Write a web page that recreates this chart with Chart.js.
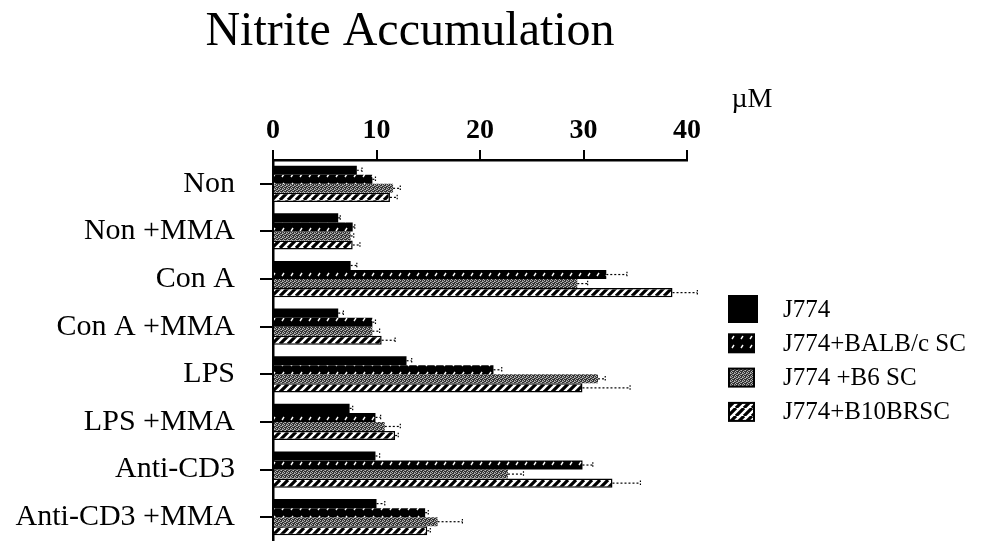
<!DOCTYPE html>
<html>
<head>
<meta charset="utf-8">
<script src="https://cdn.jsdelivr.net/npm/chart.js@4"></script>
<style>
  html, body { margin: 0; padding: 0; background: #fff; overflow: hidden; }
  #wrap { position: relative; width: 981px; height: 541px; }
</style>
</head>
<body>
<div id="wrap"><canvas id="c"></canvas></div>
<script>
// data (µM)
const categories = ['Non', 'Non +MMA', 'Con A', 'Con A +MMA', 'LPS', 'LPS +MMA', 'Anti-CD3', 'Anti-CD3 +MMA'];
const seriesNames = ['J774', 'J774+BALB/c SC', 'J774 +B6 SC', 'J774+B10BRSC'];
const j774 =   [8.1, 6.3, 7.5, 6.3, 12.9, 7.4, 9.9, 10.0];
const balbc =  [9.6, 7.7, 32.2, 9.6, 21.3, 9.9, 29.9, 14.7];
const b6 =     [11.6, 7.5, 29.4, 9.6, 31.4, 10.8, 22.7, 15.9];
const b10br =  [11.3, 7.7, 38.6, 10.5, 29.9, 11.8, 32.8, 14.9];
// upper error (SD) per bar
const j774Err =  [0.5, 0.2, 0.6, 0.5, 0.5, 0.3, 0.4, 0.8];
const balbcErr = [0.3, 0.2, 2.0, 0.3, 0.8, 0.5, 1.0, 0.3];
const b6Err =    [0.7, 0.3, 1.0, 0.7, 0.7, 1.5, 1.5, 2.4];
const b10brErr = [0.7, 0.7, 2.4, 1.3, 4.6, 0.3, 2.7, 0.3];
const xTicks = [0, 10, 20, 30, 40];

const serif = '"Liberation Serif", "DejaVu Serif", serif';

function makePattern(draw, w, h) {
  const c = document.createElement('canvas');
  c.width = w; c.height = h;
  draw(c.getContext('2d'), w, h);
  return c.getContext('2d').createPattern(c, 'repeat');
}

// black with sparse white diagonal flecks
const dotPattern = makePattern((g, w, h) => {
  g.fillStyle = '#000'; g.fillRect(0, 0, w, h);
  g.strokeStyle = '#fff'; g.lineWidth = 1.4;
  g.beginPath(); g.moveTo(3, 6); g.lineTo(5, 3); g.stroke();
}, 9, 9);

// dense gray stipple
const grayPattern = makePattern((g, w, h) => {
  g.fillStyle = '#333'; g.fillRect(0, 0, w, h);
  g.fillStyle = '#bbb';
  g.fillRect(0, 0, 1, 1); g.fillRect(2, 1, 1, 1); g.fillRect(1, 2, 1, 1); g.fillRect(3, 3, 1, 1);
  g.fillStyle = '#888';
  g.fillRect(2, 0, 1, 1); g.fillRect(0, 2, 1, 1); g.fillRect(3, 1, 1, 1);
}, 4, 4);

// white with bold black diagonal hatch
const hatchPattern = makePattern((g, w, h) => {
  g.fillStyle = '#fff'; g.fillRect(0, 0, w, h);
  g.strokeStyle = '#000'; g.lineWidth = 3.2;
  g.beginPath();
  for (let k = -1; k <= 1; k++) { g.moveTo(k * w, h); g.lineTo(k * w + w, 0); }
  g.stroke();
}, 8, 8);

const patterns = ['#000', dotPattern, grayPattern, hatchPattern];
const values = [j774, balbc, b6, b10br];
const errors = [j774Err, balbcErr, b6Err, b10brErr];

const errorBars = {
  id: 'errorBars',
  afterDatasetsDraw(chart) {
    const g = chart.ctx, xs = chart.scales.x;
    g.save();
    g.strokeStyle = '#000';
    chart.data.datasets.forEach((ds, i) => {
      const meta = chart.getDatasetMeta(i);
      meta.data.forEach((bar, j) => {
        const x0 = xs.getPixelForValue(ds.data[j]);
        const x1 = xs.getPixelForValue(ds.data[j] + errors[i][j]);
        const y = bar.y, hh = bar.height * 0.3;
        g.lineWidth = 1.2;
        g.setLineDash([2, 2]);
        g.beginPath(); g.moveTo(x0, y); g.lineTo(x1, y); g.stroke();
        g.setLineDash([1.5, 1.5]);
        g.beginPath(); g.moveTo(x1, y - hh); g.lineTo(x1, y + hh); g.stroke();
      });
    });
    g.restore();
  }
};

const decor = {
  id: 'decor',
  afterDraw(chart) {
    const g = chart.ctx;
    g.save();
    g.fillStyle = '#000';
    g.textBaseline = 'middle';
    g.textAlign = 'center';
    g.font = '48px ' + serif;
    g.fillText('Nitrite Accumulation', 410, 32);
    g.font = '28px ' + serif;
    g.fillText('\u00b5M', 752, 100);
    // legend
    g.textAlign = 'left';
    g.font = '25px ' + serif;
    seriesNames.forEach((name, i) => {
      const y = 309 + i * 34.3;
      const bw = i === 0 ? 28 : 25, bh = i === 0 ? 26 : 18;
      g.fillStyle = patterns[i];
      g.fillRect(729, y - bh / 2, bw, bh);
      g.strokeStyle = '#000'; g.lineWidth = 2;
      g.strokeRect(729, y - bh / 2, bw, bh);
      g.fillStyle = '#000';
      g.fillText(name, 783, y + 1);
    });
    g.restore();
  }
};

new Chart(document.getElementById('c'), {
  type: 'bar',
  data: {
    labels: categories,
    datasets: seriesNames.map((name, i) => ({
      label: name,
      data: values[i],
      backgroundColor: patterns[i],
      borderColor: '#000',
      borderWidth: i === 3 ? 1.5 : 0,
      categoryPercentage: 0.76,
      barPercentage: 1
    }))
  },
  options: {
    indexAxis: 'y',
    responsive: true,
    maintainAspectRatio: false,
    animation: false,
    devicePixelRatio: 1,
    layout: { padding: { left: 0, right: 294, top: 0, bottom: 0 } },
    plugins: { legend: { display: false }, title: { display: false }, tooltip: { enabled: false } },
    scales: {
      x: {
        position: 'top',
        min: 0, max: 40,
        afterFit: s => { s.height = 160; },
        afterBuildTicks: s => { s.ticks = xTicks.map(v => ({ value: v })); },
        ticks: { color: '#000', padding: 2, font: { family: serif, size: 28, weight: 'bold' } },
        grid: { drawOnChartArea: false, color: '#000', lineWidth: 2, tickLength: 10 },
        border: { color: '#000', width: 2.5 }
      },
      y: {
        afterFit: s => { s.width = 273; s.paddingTop = 0; s.paddingBottom = 0; },
        ticks: { color: '#000', padding: 25, font: { family: serif, size: 30 } },
        grid: { drawOnChartArea: false, offset: false, color: '#000', lineWidth: 2, tickLength: 13 },
        border: { color: '#000', width: 2.5 }
      }
    }
  },
  plugins: [errorBars, decor]
});
</script>
</body>
</html>
